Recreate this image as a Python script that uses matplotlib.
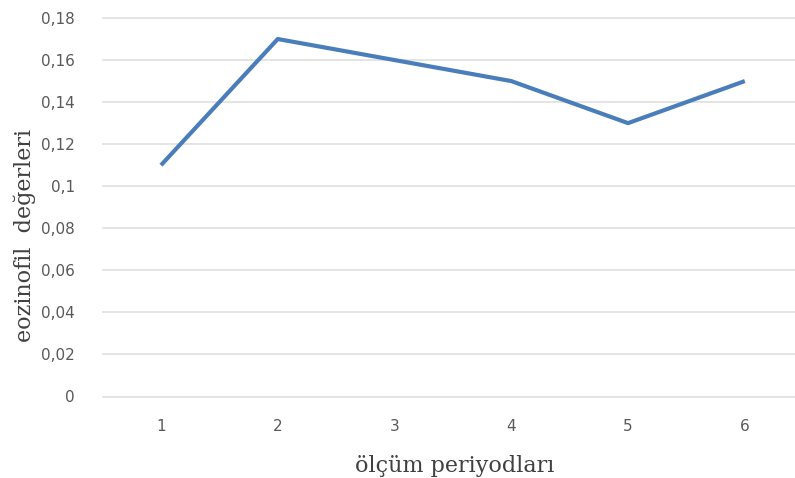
import matplotlib
matplotlib.use("Agg")
import matplotlib.pyplot as plt

periods = [1, 2, 3, 4, 5, 6]
values = [0.11, 0.17, 0.16, 0.15, 0.13, 0.15]
yticks = [0, 0.02, 0.04, 0.06, 0.08, 0.10, 0.12, 0.14, 0.16, 0.18]
ytick_labels = ["0", "0,02", "0,04", "0,06", "0,08", "0,1", "0,12", "0,14", "0,16", "0,18"]

W, H = 795, 478
fig = plt.figure(figsize=(W / 100, H / 100), dpi=100)
left, right, top, bottom = 102.6, 795, 18, 396.5
ax = fig.add_axes([left / W, 1 - bottom / H, (right - left) / W, (bottom - top) / H])

ax.plot(periods, values, color="#4a7ebb", linewidth=3, solid_capstyle="butt", zorder=3)
ax.set_xlim(0.5, 6.43)
ax.set_ylim(0, 0.18)
ax.set_yticks(yticks)
ax.set_yticklabels(ytick_labels)
ax.set_xticks(periods)
ax.set_xticklabels([str(p) for p in periods])
ax.grid(axis="y", color="#dcdcdc", linewidth=1.1)
for gl in ax.get_ygridlines():
    gl.set_clip_on(False)
ax.set_axisbelow(True)
for s in ax.spines.values():
    s.set_visible(False)
ax.tick_params(length=0, labelsize=11, labelcolor="#595959")
ax.tick_params(axis="y", pad=20)
ax.tick_params(axis="x", pad=16)
for lab in ax.get_xticklabels() + ax.get_yticklabels():
    lab.set_family("DejaVu Sans")

fig.text(455 / W, 1 - 466 / H, "ölçüm periyodları", family="DejaVu Serif", fontsize=16,
         color="#404040", ha="center", va="center")
fig.text(25 / W, 1 - 235 / H, "eozinofil  değerleri", family="DejaVu Serif", fontsize=16,
         color="#404040", ha="center", va="center", rotation=90)

fig.savefig("out.png", dpi=100)
